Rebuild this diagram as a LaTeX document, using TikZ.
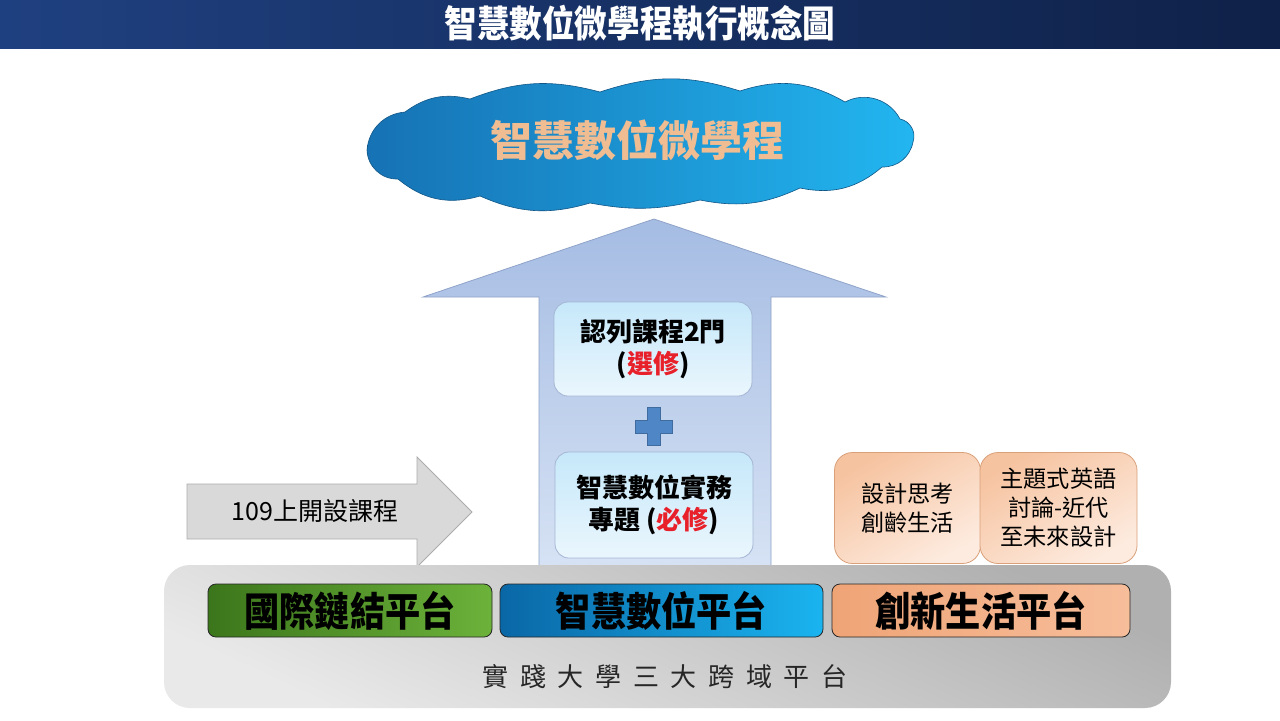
\documentclass[tikz,border=0pt]{standalone}
\usepackage{fontspec}
\setmainfont{Noto Sans CJK TC}
\newfontfamily\condfont{Noto Sans CJK TC}[FakeStretch=0.88]

\definecolor{barL}{HTML}{1F4080}
\definecolor{barR}{HTML}{0F2148}
\definecolor{cloudL}{HTML}{1672B4}
\definecolor{cloudR}{HTML}{22B6F0}
\definecolor{cloudtext}{HTML}{F0BC92}
\definecolor{arrowtop}{HTML}{A5BCE3}
\definecolor{arrowbot}{HTML}{D6E2F4}
\definecolor{arrowline}{HTML}{8FA3C8}
\definecolor{boxtop}{HTML}{C6E8FA}
\definecolor{boxbot}{HTML}{EAF6FD}
\definecolor{reqred}{HTML}{E8202A}
\definecolor{plusblue}{HTML}{4F86C6}
\definecolor{peachtop}{HTML}{F6C3A0}
\definecolor{peachbot}{HTML}{FDEBDF}
\definecolor{peachline}{HTML}{D9A07A}
\definecolor{greenL}{HTML}{3C761C}
\definecolor{greenR}{HTML}{6CB23A}
\definecolor{blueL}{HTML}{0A67A6}
\definecolor{blueR}{HTML}{1AB4F0}
\definecolor{orangeL}{HTML}{EFA476}
\definecolor{orangeR}{HTML}{F7BE9B}

\tikzset{
  coursebox/.style={draw=arrowline!80, rounded corners=7pt, top color=boxtop, bottom color=boxbot,
    minimum width=99pt, align=center, font=\fontsize{13}{16}\selectfont\bfseries},
  ideabox/.style={draw=peachline, rounded corners=9pt, top color=peachtop, bottom color=peachbot,
    shading angle=30, minimum height=55.5pt, align=center, font=\fontsize{11.6}{14.5}\selectfont},
  platbox/.style={draw=black!85, rounded corners=4pt, minimum height=26.5pt, inner sep=1pt,
    font=\condfont\fontsize{20}{21}\selectfont\bfseries},
}

\begin{document}
\begin{tikzpicture}[x=0.5pt, y=-0.5pt]
  % 底圖與標題列
  \useasboundingbox (0,0) rectangle (1280,720);
  \fill[white] (0,0) rectangle (1280,720);
  \shade[left color=barL, right color=barR] (0,0) rectangle (1280,48);
  \node[text=white, font=\condfont\fontsize{18.5}{20}\selectfont\bfseries] (title) at (640,24) {智慧數位微學程執行概念圖};

  % 雲
  \shade[left color=cloudL, right color=cloudR, draw=cloudL!75!black, line width=0.3pt]
    (367,150) to[bend left=40] (405,112) to[bend left=25] (470,99) to[bend left=18] (600,92)
    to[bend left=18] (740,91) to[bend left=24] (845,102) to[bend left=45] (900,119)
    to[bend left=50] (913,142) to[bend left=40] (882,167) to[bend left=26] (800,188)
    to[bend left=18] (700,200) to[bend left=12] (590,203) to[bend left=20] (480,196)
    to[bend left=28] (398,179) to[bend left=45] cycle;
  \node[text=cloudtext, font=\fontsize{21}{21}\selectfont\bfseries] (cloudtxt) at (637,140) {智慧數位微學程};

  % 向上大箭頭
  \coordinate (shaftL) at (539,566);
  \coordinate (shaftR) at (771,566);
  \coordinate (tip) at (654,219);
  \shade[top color=arrowtop, bottom color=arrowbot, draw=arrowline]
    (shaftL) -- (539,297) -- (423,297) -- (tip) -- (886,297) -- (771,297) -- (shaftR);

  % 箭頭內兩個方框
  \node[coursebox, minimum height=47pt] (elective) at (653,349) {認列課程2門\\(\textcolor{reqred}{選修})};
  \node[coursebox, minimum height=53pt] (required) at (654,505) {智慧數位實務\\專題 (\textcolor{reqred}{必修})};

  % 加號
  \fill[plusblue, draw=plusblue!80!black]
    (647,407) -- (660,407) -- (660,420) -- (672,420) -- (672,433) -- (660,433)
    -- (660,445) -- (647,445) -- (647,433) -- (635,433) -- (635,420) -- (647,420) -- cycle;

  % 左側灰色箭頭
  \coordinate (openL) at (187,484);
  \coordinate (openTip) at (472,512);
  \fill[gray!30, draw=gray!65]
    (openL) -- (417,484) -- (417,457) -- (openTip) -- (417,567) -- (417,539) -- (187,539) -- cycle;
  \node[font=\fontsize{12.5}{14}\selectfont] (open) at (315,511) {109上開設課程};

  % 右側兩個橘色方框
  \node[ideabox, minimum width=73pt] (design) at (907.5,508) {設計思考\\創齡生活};
  \node[ideabox, minimum width=78.5pt] (english) at (1058.5,508) {主題式英語\\討論-近代\\至未來設計};

  % 三大跨域平台
  \shade[rounded corners=13pt, top color=gray!62, bottom color=gray!17, shading angle=-25]
    (164,565) rectangle (1171,708);
  \node[platbox, minimum width=142pt, left color=greenL, right color=greenR] (intl) at (350,610.5) {國際鏈結平台};
  \node[platbox, minimum width=161.5pt, left color=blueL, right color=blueR] (digital) at (661.5,610.5) {智慧數位平台};
  \node[platbox, minimum width=149pt, left color=orangeL, right color=orangeR] (life) at (981,610.5) {創新生活平台};
  \node[text=black!85, font=\fontsize{13}{14}\selectfont] (base) at (665,677)
    {實\hspace{5.8pt}踐\hspace{5.8pt}大\hspace{5.8pt}學\hspace{5.8pt}三\hspace{5.8pt}大\hspace{5.8pt}跨\hspace{5.8pt}域\hspace{5.8pt}平\hspace{5.8pt}台};
\end{tikzpicture}
\end{document}
